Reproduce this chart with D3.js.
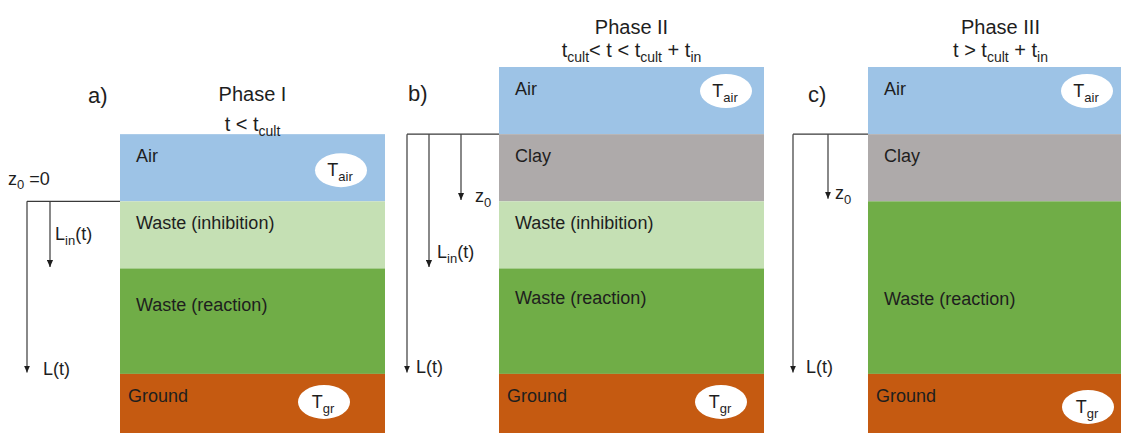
<!DOCTYPE html>
<html>
<head>
<meta charset="utf-8">
<script src="https://cdn.jsdelivr.net/npm/d3@7"></script>
<style>
  body { margin: 0; background: #fff; }
  svg text { font-family: "Liberation Sans", Arial, sans-serif; fill: #1e1e1e; }
</style>
</head>
<body>
<div id="chart"></div>
<script>
// panels / phases
const panelTags = ["a)", "b)", "c)"];
const phaseTitles = ["Phase I", "Phase II", "Phase III"];
// subtitle pieces: [text, isSubscript]
const phaseConditions = [
    [["t < t", false], ["cult", true]],
    [["t", false], ["cult", true], ["< t < t", false], ["cult", true], [" + t", false], ["in", true]],
    [["t > t", false], ["cult", true], [" + t", false], ["in", true]]
];

// layers of each phase, with depth boundaries (top .. bottom)
const layerNamesA = ["Air", "Waste (inhibition)", "Waste (reaction)", "Ground"];
const layerBoundsA = [1, 2, 3, 4.57, 5.45];
const layerNamesB = ["Air", "Clay", "Waste (inhibition)", "Waste (reaction)", "Ground"];
const layerBoundsB = [0, 1, 2, 3, 4.57, 5.45];
const layerNamesC = ["Air", "Clay", "Waste (reaction)", "Ground"];
const layerBoundsC = [0, 1, 2, 4.57, 5.45];

// depth arrows: name and depth the arrow points to
const surfaceDepths = [2, 1, 1];
const arrowsA = [["L", 4.55], ["Lin", 2.98]];
const arrowsB = [["L", 4.55], ["Lin", 2.98], ["z0", 1.98]];
const arrowsC = [["L", 4.55], ["z0", 1.96]];

// temperature bubbles
const bubbleLabels = [["T", "air"], ["T", "gr"]];

const layerColors = d3.scaleOrdinal()
    .domain(["Air", "Clay", "Waste (inhibition)", "Waste (reaction)", "Ground"])
    .range(["#9dc3e6", "#aeaaaa", "#c5e0b4", "#70ad47", "#c55a11"]);

const width = 1121;
const height = 433;

const svg = d3.select('#chart')
    .append('svg')
    .attr('width', width)
    .attr('height', height);

svg.append('defs').append('marker')
    .attr('id', 'tip')
    .attr('markerUnits', 'userSpaceOnUse')
    .attr('viewBox', '0 0 8 8')
    .attr('refX', 8).attr('refY', 4)
    .attr('markerWidth', 7).attr('markerHeight', 7)
    .attr('orient', 'auto')
    .append('path')
    .attr('d', 'M0,0.5 L8,4 L0,7.5 Z')
    .attr('fill', '#1e1e1e');

// depth scale shared by all panels
const y = d3.scaleLinear().domain([0, 5.45]).range([67, 433]);

// layout per panel
const layout = [
    {
        left: 120, reactionDy: 43, tagX: 88, tagY: 103,
        air: [-44, 36], gr: [-61, 28],
        arrowX: { L: -93, Lin: -70 },
        labelPos: { L: [16, 2], Lin: [5, -27] },
        surfaceLabel: true
    },
    {
        left: 499, reactionDy: 36, tagX: 408, tagY: 101,
        air: [-38, 24], gr: [-43, 28],
        arrowX: { L: -92, Lin: -70, z0: -38 },
        labelPos: { L: [9, 0], Lin: [8, -9], z0: [14, 2] }
    },
    {
        left: 868, reactionDy: 104, tagX: 808, tagY: 102,
        air: [-46, 24], gr: [-45, 33],
        arrowX: { L: -75, z0: -40 },
        labelPos: { L: [13, 0], z0: [7, 0] }
    }
];
const panelWidth = 265;

const layerSets = [
    [layerNamesA, layerBoundsA, arrowsA],
    [layerNamesB, layerBoundsB, arrowsB],
    [layerNamesC, layerBoundsC, arrowsC]
];

function richText(sel, parts, subSize, shift) {
    parts.forEach(([txt, isSub], i) => {
        const prevSub = i > 0 && parts[i - 1][1];
        const t = sel.append('tspan').text(txt);
        if (isSub) t.attr('font-size', subSize).attr('dy', shift);
        else if (prevSub) t.attr('dy', -shift);
    });
}

layerSets.forEach(([names, bounds, arrows], p) => {
    const lay = layout[p];
    const x = d3.scaleLinear().domain([0, 1]).range([lay.left, lay.left + panelWidth]);
    const g = svg.append('g').classed('panel', true);

    const layers = names.map((n, i) => ({ name: n, top: bounds[i], bottom: bounds[i + 1] }));

    // layer rects
    g.selectAll('rect.layer')
        .data(layers)
        .enter()
        .append('rect')
        .classed('layer', true)
        .attr('x', x(0))
        .attr('y', d => y(d.top))
        .attr('width', x(1) - x(0))
        .attr('height', d => y(d.bottom) - y(d.top))
        .attr('fill', d => layerColors(d.name));

    // layer labels
    g.selectAll('text.layer-label')
        .data(layers)
        .enter()
        .append('text')
        .classed('layer-label', true)
        .attr('x', d => x(0) + (d.name === 'Ground' ? 8 : 16))
        .attr('y', d => y(d.top) + (d.name === 'Waste (reaction)' ? lay.reactionDy : (d.name === 'Air' && p > 0 ? 28 : 28)))
        .attr('font-size', 18)
        .text(d => d.name);

    // temperature bubbles
    const airLayer = layers.find(d => d.name === 'Air');
    const grLayer = layers.find(d => d.name === 'Ground');
    [[airLayer, lay.air, bubbleLabels[0]], [grLayer, lay.gr, bubbleLabels[1]]].forEach(([ly, off, lbl]) => {
        const cx = x(1) + off[0];
        const cy = y(ly.top) + off[1];
        g.append('ellipse')
            .attr('cx', cx).attr('cy', cy)
            .attr('rx', 26).attr('ry', 17)
            .attr('fill', '#fff');
        const t = g.append('text')
            .attr('x', cx - 1).attr('y', cy + 6)
            .attr('text-anchor', 'middle')
            .attr('font-size', 18);
        richText(t, [[lbl[0], false], [lbl[1], true]], 13, 5);
    });

    // title + condition
    const cxTitle = (x(0) + x(1)) / 2;
    const topY = y(layers[0].top);
    g.append('text')
        .attr('x', cxTitle).attr('y', topY - 33)
        .attr('text-anchor', 'middle')
        .attr('font-size', 20)
        .text(phaseTitles[p]);
    const cond = g.append('text')
        .attr('x', cxTitle).attr('y', topY - (p === 0 ? 3 : 10))
        .attr('text-anchor', 'middle')
        .attr('font-size', 20);
    richText(cond, phaseConditions[p], 14, 5);

    // panel tag
    g.append('text')
        .attr('x', lay.tagX).attr('y', lay.tagY)
        .attr('font-size', 22)
        .text(panelTags[p]);

    // surface line + depth arrows
    const sy = y(surfaceDepths[p]);
    const leftMost = x(0) + d3.min(Object.values(lay.arrowX));
    g.append('line')
        .attr('x1', leftMost).attr('x2', x(0))
        .attr('y1', sy).attr('y2', sy)
        .attr('stroke', '#3a3a3a').attr('stroke-width', 1.2);

    arrows.forEach(([name, depth]) => {
        const ax = x(0) + lay.arrowX[name];
        const ay = y(depth);
        g.append('line')
            .attr('x1', ax).attr('x2', ax)
            .attr('y1', sy).attr('y2', ay)
            .attr('stroke', '#3a3a3a').attr('stroke-width', 1.2)
            .attr('marker-end', 'url(#tip)');
        const lp = lay.labelPos[name];
        const t = g.append('text')
            .attr('x', ax + lp[0]).attr('y', ay + lp[1])
            .attr('font-size', 18);
        if (name === 'L') richText(t, [["L(t)", false]], 13, 5);
        if (name === 'Lin') richText(t, [["L", false], ["in", true], ["(t)", false]], 13, 5);
        if (name === 'z0') richText(t, [["z", false], ["0", true]], 13, 5);
    });

    if (lay.surfaceLabel) {
        const t = g.append('text')
            .attr('x', 8).attr('y', sy - 16)
            .attr('font-size', 18);
        richText(t, [["z", false], ["0", true], [" =0", false]], 13, 4);
    }
});
</script>
</body>
</html>
